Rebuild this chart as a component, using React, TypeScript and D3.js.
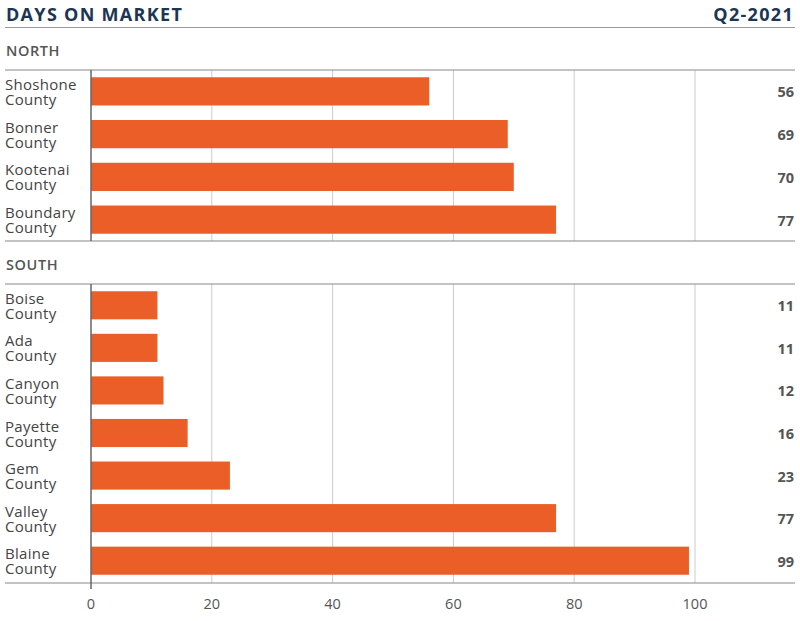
import React from "react";
import * as d3 from "d3";

const northCounties = ["Shoshone", "Bonner", "Kootenai", "Boundary"];
const northValues = [56, 69, 70, 77];
const southCounties = ["Boise", "Ada", "Canyon", "Payette", "Gem", "Valley", "Blaine"];
const southValues = [11, 11, 12, 16, 23, 77, 99];
const xTicks = [0, 20, 40, 60, 80, 100];

const W = 800;
const H = 621;
const FONT = "'Open Sans', sans-serif";
const BAR = "#EB5E27";

export default function App() {
  const x = d3.scaleLinear().domain([0, 100]).range([91, 695]);
  const northY = d3.scaleBand<string>().domain(northCounties).range([70, 241]).paddingInner(0.34).paddingOuter(0.17);
  const southY = d3.scaleBand<string>().domain(southCounties).range([284, 582]).paddingInner(0.34).paddingOuter(0.17);

  const section = (
    name: string,
    counties: string[],
    values: number[],
    y: d3.ScaleBand<string>,
    top: number,
    bottom: number,
    headY: number,
    extend: number
  ) => (
    <g>
      <text x={6} y={headY} fontFamily={FONT} fontWeight={600} fontSize={14.5} letterSpacing={0.6} fill="#555">
        {name}
      </text>
      {xTicks.slice(1).map((t) => (
        <line key={t} x1={x(t)} x2={x(t)} y1={top} y2={bottom} stroke="#ccc" strokeWidth={1} />
      ))}
      {counties.map((c, i) => {
        const cy = (y(c) as number) + y.bandwidth() / 2;
        return (
          <g key={c}>
            <rect x={x(0)} y={y(c)} width={x(values[i]) - x(0)} height={y.bandwidth()} fill={BAR} />
            <text x={5} y={cy - 1.5} fontFamily={FONT} fontSize={15} letterSpacing={0.3} fill="#444">
              <tspan x={5}>{c}</tspan>
              <tspan x={5} dy={15}>County</tspan>
            </text>
            <text x={794} y={cy + 6} textAnchor="end" fontFamily={FONT} fontWeight={700} fontSize={14.5} fill="#555">
              {values[i]}
            </text>
          </g>
        );
      })}
      <line x1={5} x2={795} y1={top} y2={top} stroke="#888" strokeWidth={1.2} />
      <line x1={5} x2={795} y1={bottom} y2={bottom} stroke="#888" strokeWidth={1.2} />
      <line x1={x(0)} x2={x(0)} y1={top} y2={bottom + extend} stroke="#666" strokeWidth={1.5} />
    </g>
  );

  return (
    <svg width={W} height={H} style={{ position: "absolute", left: 0, top: 0 }}>
      <rect width={W} height={H} fill="#fff" />
      <text x={6} y={21} fontFamily={FONT} fontWeight={700} fontSize={18} fill="#1B3553" letterSpacing={1.3}>
        DAYS ON MARKET
      </text>
      <text x={794} y={21} textAnchor="end" fontFamily={FONT} fontWeight={700} fontSize={18} fill="#1B3553" letterSpacing={1.3}>
        Q2-2021
      </text>
      <line x1={5} x2={795} y1={27.5} y2={27.5} stroke="#999" strokeWidth={1.2} />
      {section("NORTH", northCounties, northValues, northY, 70, 241, 56, 0)}
      {section("SOUTH", southCounties, southValues, southY, 284, 583, 270, 6)}
      {xTicks.map((t) => (
        <text key={t} x={x(t)} y={609} textAnchor="middle" fontFamily={FONT} fontSize={14.5} fill="#555">
          {t}
        </text>
      ))}
    </svg>
  );
}
